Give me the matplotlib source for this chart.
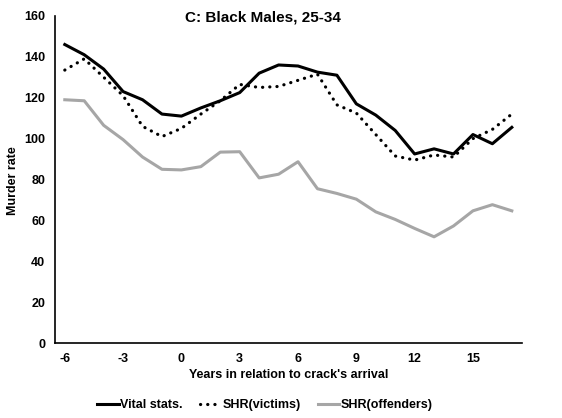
import matplotlib
matplotlib.use("Agg")
import matplotlib.pyplot as plt
import numpy as np

plt.rcParams['font.family'] = ['Liberation Sans', 'DejaVu Sans']
plt.rcParams['font.weight'] = 'bold'
plt.rcParams['axes.unicode_minus'] = False

# years relative to crack's arrival
years = list(range(-6, 18))
vital = [146, 141, 134, 123, 119, 112, 111, 115, 118.5, 122.5, 132, 136,
         135.5, 132.5, 131, 117, 111.5, 104, 92.5, 95, 92.5, 102, 97.5, 105.5]
victims = [133.5, 139, 130, 121, 106, 101, 105, 112, 118.5, 126.5, 125, 125.5,
           128.5, 131.5, 116.5, 112.5, 102, 91.5, 89.5, 92, 91, 100, 104.5, 112]
offenders = [119, 118.5, 106.5, 99.5, 91, 85, 84.7, 86.3, 93.4, 93.6, 80.8, 82.6,
             88.7, 75.5, 73.2, 70.4, 64.2, 60.5, 56.1, 52, 57.3, 64.7, 67.7, 64.7]
xticks = [-6, -3, 0, 3, 6, 9, 12, 15]
yticks = [0, 20, 40, 60, 80, 100, 120, 140, 160]

fig = plt.figure(figsize=(5.62, 4.18), dpi=100)
ax = fig.add_axes([0.098, 0.179, 0.830, 0.783])

ax.plot(years, vital, color='black', linewidth=2.2, label='Vital stats.')
ax.plot(years, victims, color='black', linewidth=2.3, linestyle=(0, (0.05, 2.2)),
        dash_capstyle='round', label='SHR(victims)')
ax.plot(years, offenders, color='#a6a6a6', linewidth=2.2, label='SHR(offenders)')

ax.set_xlim(-6.5, 17.5)
ax.set_ylim(0, 160)
ax.set_xticks(xticks)
ax.set_yticks(yticks)
ax.tick_params(length=0, labelsize=9, pad=7)
for s in ['top', 'right']:
    ax.spines[s].set_visible(False)
ax.spines['left'].set_linewidth(1.2)
ax.spines['bottom'].set_linewidth(1.2)

ax.set_xlabel("Years in relation to crack's arrival", fontsize=9, fontweight='bold', labelpad=3)
fig.text(13 / 562, 1 - 181 / 418, 'Murder rate', rotation=90, ha='center', va='center',
         fontsize=9, fontweight='bold')
fig.text(263 / 562, 1 - 17 / 418, 'C: Black Males, 25-34', ha='center', va='center',
         fontsize=11, fontweight='bold')

fig.legend(loc='center', bbox_to_anchor=(265 / 562, 1 - 405 / 418), ncol=3,
           frameon=False, fontsize=9, handlelength=1.7, handletextpad=0.1,
           columnspacing=1.4)

fig.savefig('out.png', dpi=100)
